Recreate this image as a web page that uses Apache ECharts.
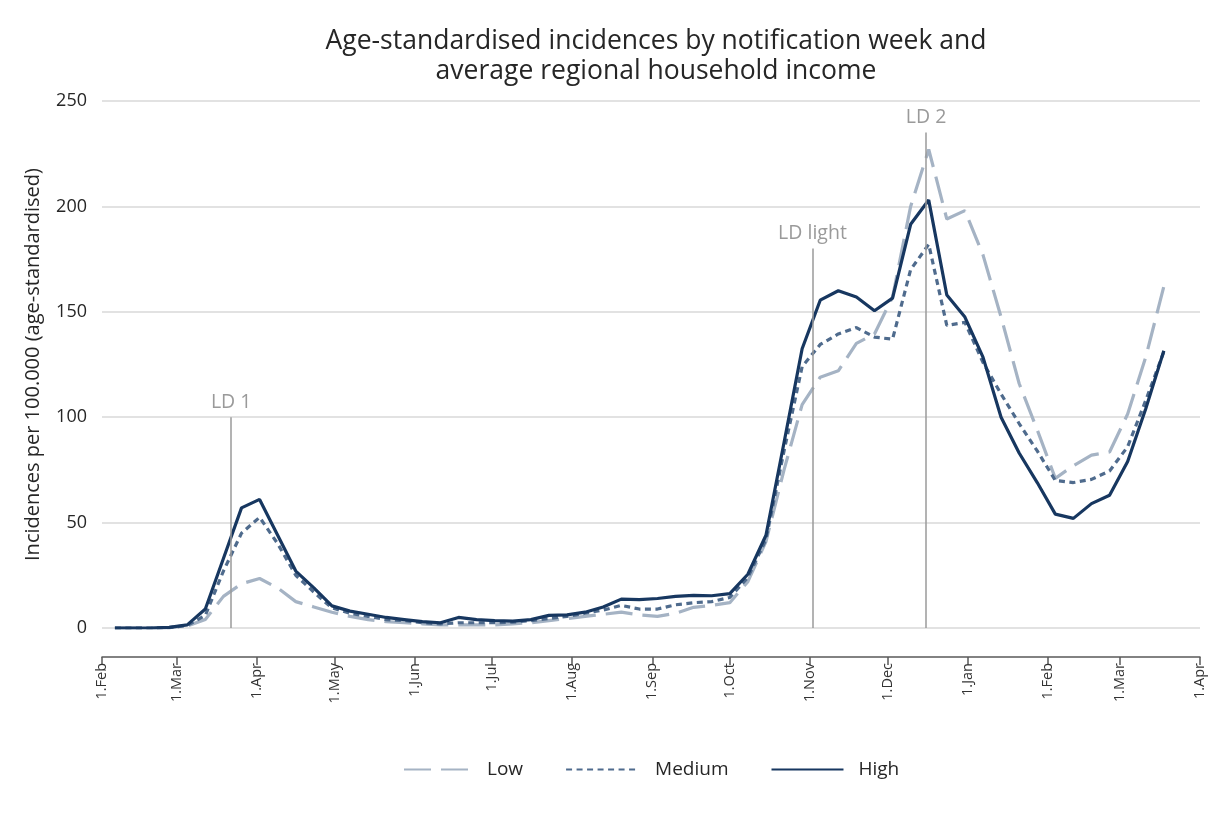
<!DOCTYPE html>
<html>
<head>
<meta charset="utf-8">
<script src="https://cdn.jsdelivr.net/npm/echarts@6/dist/echarts.min.js"></script>
<style>
  html, body { margin: 0; padding: 0; background: #fff; }
  #chart { width: 1214px; height: 814px; }
</style>
</head>
<body>
<div id="chart"></div>
<script>
// Weekly notification dates (plotted at mid-week)
const weeks = [
  '2020-02-06','2020-02-13','2020-02-20','2020-02-27',
  '2020-03-05','2020-03-12','2020-03-19','2020-03-26',
  '2020-04-02','2020-04-09','2020-04-16','2020-04-23','2020-04-30',
  '2020-05-07','2020-05-14','2020-05-21','2020-05-28',
  '2020-06-04','2020-06-11','2020-06-18','2020-06-25',
  '2020-07-02','2020-07-09','2020-07-16','2020-07-23','2020-07-30',
  '2020-08-06','2020-08-13','2020-08-20','2020-08-27',
  '2020-09-03','2020-09-10','2020-09-17','2020-09-24',
  '2020-10-01','2020-10-08','2020-10-15','2020-10-22','2020-10-29',
  '2020-11-05','2020-11-12','2020-11-19','2020-11-26',
  '2020-12-03','2020-12-10','2020-12-17','2020-12-24','2020-12-31',
  '2021-01-07','2021-01-14','2021-01-21','2021-01-28',
  '2021-02-04','2021-02-11','2021-02-18','2021-02-25',
  '2021-03-04','2021-03-11','2021-03-18'
];

const low = [
  0, 0, 0, 0.2, 1, 4, 15, 21, 23.5, 19, 12.5, 10, 7.5,
  5.5, 4, 3, 2.5, 2, 1.5, 1.5, 1.5, 1.5, 2, 2.5, 3.5, 4.5,
  5.5, 6.5, 7.5, 6.2, 5.5, 7, 9.8, 10.7, 12, 22, 41, 75, 106,
  119, 122, 135, 139.5, 157, 200, 227, 194, 198, 177, 147.5, 116, 94,
  71, 77, 82, 83.5, 101.5, 128.5, 162
];

const medium = [
  0, 0, 0, 0.2, 1.2, 6, 27, 45, 52.5, 40, 25, 17, 9.5,
  7, 5.5, 4, 3.5, 2.5, 2, 2.5, 2.5, 2.5, 2.8, 3.5, 4.5, 5.5,
  7, 8.5, 10.7, 9, 9, 11, 12, 12.5, 14.5, 24, 42, 84, 124,
  134.5, 139.5, 142.5, 138, 137, 170, 182, 143.5, 145, 126, 111, 97, 84,
  70, 69, 70.5, 74.5, 86, 108, 131
];

const high = [
  0, 0, 0, 0.3, 1.5, 9, 33, 57, 61, 44, 27, 19, 10.5,
  8, 6.5, 5, 4, 3, 2.5, 5, 4, 3.5, 3.3, 4, 6, 6.2,
  7.5, 10, 13.7, 13.5, 14, 15, 15.5, 15.3, 16.3, 25.5, 44, 88, 132.5,
  155.5, 160, 157, 150.5, 156.5, 191.5, 203, 158, 147.5, 128.5, 100, 83, 69,
  54, 52, 59, 63, 79, 104, 131.5
];

// x-axis tick dates and labels
const tickDates = [
  '2020-02-01','2020-03-01','2020-04-01','2020-05-01','2020-06-01','2020-07-01',
  '2020-08-01','2020-09-01','2020-10-01','2020-11-01','2020-12-01','2021-01-01',
  '2021-02-01','2021-03-01','2021-04-01'
];
const tickLabels = [
  '1.Feb','1.Mar','1.Apr','1.May','1.Jun','1.Jul','1.Aug','1.Sep','1.Oct',
  '1.Nov','1.Dec','1.Jan','1.Feb','1.Mar','1.Apr'
];
const yTicks = [0, 50, 100, 150, 200, 250];

// Lockdown markers
const lockdowns = [
  { name: 'LD 1', date: '2020-03-22', top: 100 },
  { name: 'LD light', date: '2020-11-02', top: 180 },
  { name: 'LD 2', date: '2020-12-16', top: 235 }
];

const seriesNames = ['Low', 'Medium', 'High'];

function ts(s) {
  const p = s.split('-').map(Number);
  return Date.UTC(p[0], p[1] - 1, p[2]);
}
const tickTs = tickDates.map(ts);
const FONT = 'Open Sans';

function pairs(vals) {
  return weeks.map((w, i) => [ts(w), vals[i]]);
}

const legendPads = [[0, 0, 0, 6], [0, 4, 0, 12], [0, 0, 0, 10]];

const chart = echarts.init(document.getElementById('chart'), null, { renderer: 'canvas' });

const option = {
  backgroundColor: '#ffffff',
  animation: false,
  textStyle: { fontFamily: FONT },
  title: {
    text: 'Age-standardised incidences by notification week and\naverage regional household income',
    left: 651,
    textAlign: 'center',
    top: 21,
    textStyle: {
      fontFamily: FONT,
      fontSize: 26.5,
      fontWeight: 'normal',
      color: '#262626',
      lineHeight: 30
    }
  },
  legend: {
    left: 398,
    top: 755,
    itemWidth: 72,
    itemHeight: 10,
    itemGap: 42,
    itemStyle: { opacity: 0 },
    textStyle: { fontFamily: FONT, fontSize: 19, color: '#262626' },
    data: seriesNames.map((n, i) => ({
      name: n,
      textStyle: { fontFamily: FONT, fontSize: 19, color: '#262626', padding: legendPads[i] }
    }))
  },
  grid: {
    left: 102,
    right: 14,
    top: 101,
    bottom: 186,
    containLabel: false
  },
  xAxis: {
    type: 'value',
    min: tickTs[0],
    max: tickTs[tickTs.length - 1],
    offset: 29,
    axisLine: { show: true, onZero: false, lineStyle: { color: '#595959', width: 1.5 } },
    axisTick: {
      show: true,
      length: 8,
      customValues: tickTs,
      lineStyle: { color: '#595959', width: 1.5 }
    },
    axisLabel: {
      customValues: tickTs,
      rotate: 90,
      margin: 6,
      fontFamily: FONT,
      fontSize: 14.5,
      color: '#333333',
      formatter: function (val) {
        const i = tickTs.indexOf(val);
        return i >= 0 ? tickLabels[i] : '';
      }
    },
    splitLine: { show: false }
  },
  yAxis: {
    type: 'value',
    min: yTicks[0],
    max: yTicks[yTicks.length - 1],
    interval: yTicks[1] - yTicks[0],
    name: 'Incidences per 100.000 (age-standardised)',
    nameLocation: 'middle',
    nameGap: 59,
    nameRotate: 90,
    nameTextStyle: { fontFamily: FONT, fontSize: 20, color: '#262626' },
    axisLine: { show: false },
    axisTick: { show: false },
    axisLabel: { fontFamily: FONT, fontSize: 18, color: '#262626', margin: 15 },
    splitLine: { show: true, lineStyle: { color: '#d9d9d9', width: 1.5 } }
  },
  series: [
    {
      name: seriesNames[0],
      type: 'line',
      data: pairs(low),
      symbol: 'none',
      z: 2,
      lineStyle: { color: '#a5b3c4', width: 3.2, type: [27, 10] },
      itemStyle: { color: '#a5b3c4' }
    },
    {
      name: seriesNames[1],
      type: 'line',
      data: pairs(medium),
      symbol: 'none',
      z: 3,
      lineStyle: { color: '#4f6b8d', width: 3.2, type: [6, 4.5] },
      itemStyle: { color: '#4f6b8d' }
    },
    {
      name: seriesNames[2],
      type: 'line',
      data: pairs(high),
      symbol: 'none',
      z: 4,
      lineStyle: { color: '#173760', width: 3.2 },
      itemStyle: { color: '#173760' },
      markLine: {
        silent: true,
        symbol: ['none', 'none'],
        lineStyle: { color: '#9a9a9a', width: 1.5, type: 'solid' },
        label: {
          show: true,
          position: 'end',
          distance: 5,
          fontFamily: FONT,
          fontSize: 19.5,
          color: '#9a9a9a',
          formatter: '{b}'
        },
        data: lockdowns.map(l => [
          { name: l.name, coord: [ts(l.date), 0] },
          { coord: [ts(l.date), l.top] }
        ])
      }
    }
  ]
};

chart.setOption(option);
</script>
</body>
</html>
